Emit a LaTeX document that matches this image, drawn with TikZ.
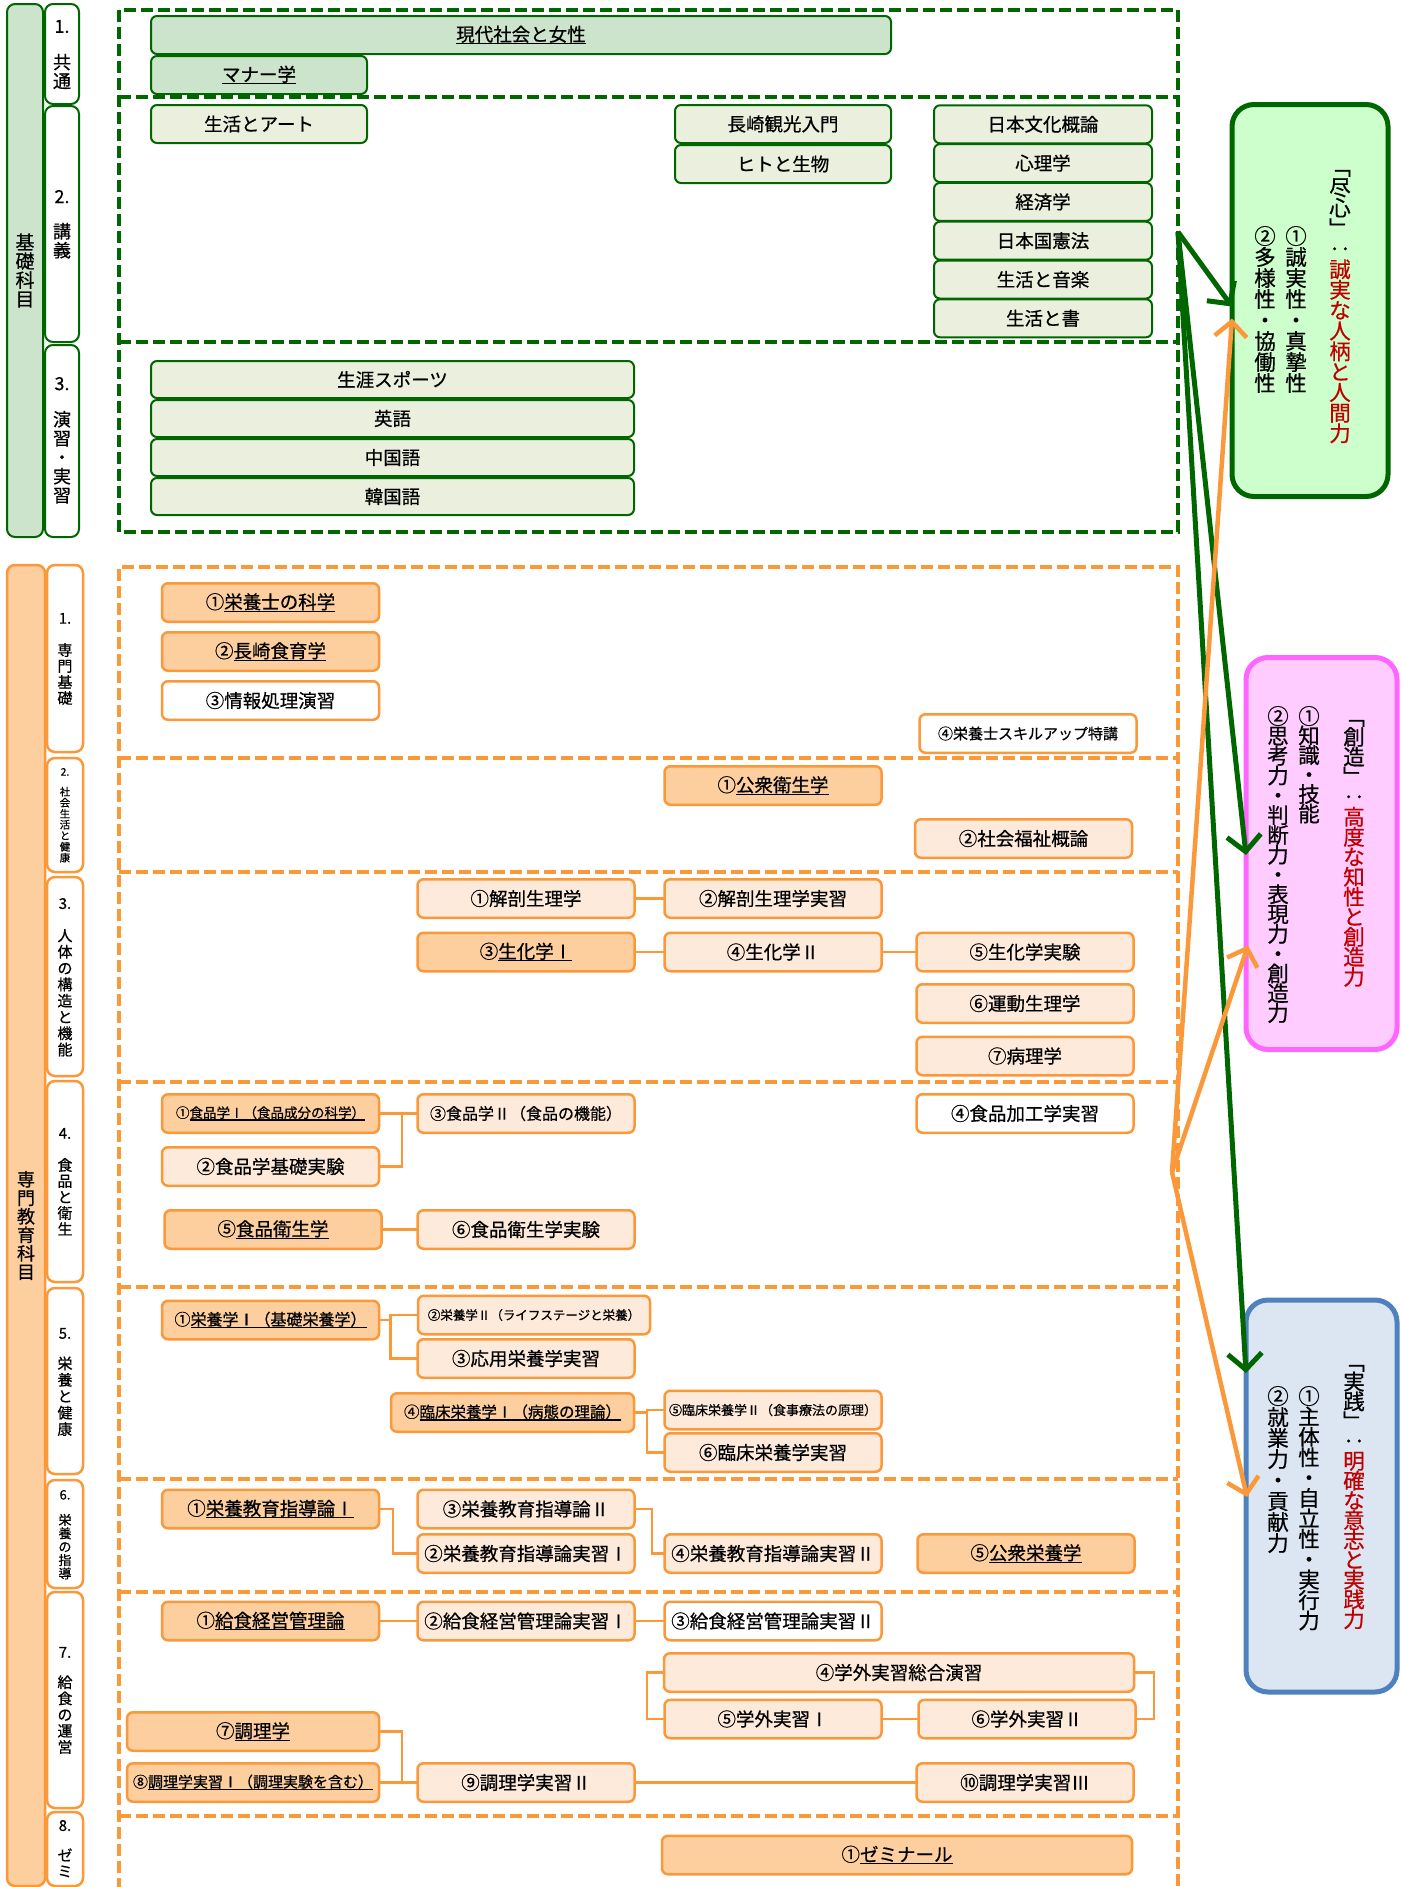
\documentclass[tikz,border=0pt]{standalone}
\usepackage{fontspec}
\setmainfont{Noto Sans CJK JP}[FakeBold=0.6]
\usetikzlibrary{arrows.meta,calc,positioning}
\definecolor{KisoLine}{RGB}{0,102,0}
\definecolor{KisoFill}{RGB}{204,228,204}
\definecolor{KisoLight}{RGB}{235,240,222}
\definecolor{SenmonLine}{RGB}{250,152,58}
\definecolor{SenmonFill}{RGB}{253,206,158}
\definecolor{SenmonLight}{RGB}{253,234,218}
\definecolor{JinshinFill}{RGB}{204,255,204}
\definecolor{SozoFill}{RGB}{255,204,255}
\definecolor{SozoLine}{RGB}{255,102,255}
\definecolor{JissenFill}{RGB}{220,230,242}
\definecolor{JissenLine}{RGB}{79,129,189}
\definecolor{TitleRed}{RGB}{192,0,0}

\makeatletter
\newcommand\tate[1]{\@tfor\TateChar:=#1\do{\hbox to 1em{\hss\TateChar\hss}}}
\makeatother
\newcommand\tatecol[2]{\vbox{\baselineskip=#1\lineskiplimit=-20pt\tate{#2}}}
\newcommand\barnum[4]{\vbox{\baselineskip=#1\lineskiplimit=-20pt
    \hbox to 1em{\hss#3.\hss}\vskip#2\tate{#4}}}
\newsavebox\UlBox
\newcommand\ulbox[1]{\sbox\UlBox{#1}\rlap{\rule[-3pt]{\wd\UlBox}{1.3pt}}\usebox\UlBox}

\begin{document}
\begin{tikzpicture}[x=1pt, y=-1pt,
    every node/.style={inner sep=0pt, outer sep=0pt},
    fs/.style={font=\fontsize{#1}{#1}\selectfont},
    kamoku/.style={rounded corners=6pt, minimum width=217pt, minimum height=38pt, fs=18.5},
    kiso/.style={kamoku, draw=KisoLine, line width=2pt, fill=KisoLight},
    kisoreq/.style={kiso, fill=KisoFill},
    senmon/.style={kamoku, draw=SenmonLine, line width=2.5pt, fill=SenmonLight, minimum height=38.5pt},
    senmonreq/.style={senmon, fill=SenmonFill},
    senmonfree/.style={senmon, fill=white},
    kisobar/.style={draw=KisoLine, line width=2pt, rounded corners=8pt},
    senmonbar/.style={draw=SenmonLine, line width=2.5pt, rounded corners=8pt},
    barlabel/.style={anchor=north},
    gframe/.style={draw=KisoLine, line width=4pt, dash pattern=on 12pt off 5pt},
    oframe/.style={draw=SenmonLine, line width=4pt, dash pattern=on 12pt off 5pt},
    link/.style={draw=SenmonLine, line width=2.5pt},
    goal/.style={rounded corners=22pt, line width=5pt, minimum width=152pt, minimum height=392pt},
    tatetext/.style={anchor=north, fs=21.5},
    garrow/.style={draw=KisoLine, line width=5pt, -{Straight Barb[length=16pt,width=34pt]}},
    oarrow/.style={draw=SenmonLine, line width=4.5pt, -{Straight Barb[length=15pt,width=32pt]}}]

    \useasboundingbox (0,0) rectangle (1402,1887);

    % 基礎科目
    \node[kisobar, fill=KisoFill, minimum width=36pt, minimum height=533pt, fs=19]
        (KisoBar) at (25,270.5) {\tatecol{19pt}{基礎科目}};
    \node[kisobar, fill=white, minimum width=34pt, minimum height=100pt] (KisoBar1) at (62,54) {};
    \node[kisobar, fill=white, minimum width=34pt, minimum height=236pt] (KisoBar2) at (62,224) {};
    \node[kisobar, fill=white, minimum width=34pt, minimum height=192pt] (KisoBar3) at (62,441) {};
    \node[barlabel, fs=18] (KisoLabel1) at ([yshift=-16pt]KisoBar1.north) {\barnum{19pt}{17pt}{1}{共通}};
    \node[barlabel, fs=18] (KisoLabel2) at ([yshift=-84pt]KisoBar2.north) {\barnum{19pt}{16pt}{2}{講義}};
    \node[barlabel, fs=18] (KisoLabel3) at ([yshift=-32pt]KisoBar3.north) {\barnum{19pt}{17pt}{3}{演習・実習}};

    \draw[gframe] (119,10) rectangle (1178,532);
    \draw[gframe] (119,97) -- (1178,97);
    \draw[gframe] (119,342) -- (1178,342);

    \node[kisoreq, minimum width=740pt] (Gendai) at (521,35) {\ulbox{現代社会と女性}};
    \node[kisoreq, minimum width=216pt] (Manner) at (259,75) {\ulbox{マナー学}};
    \node[kiso, minimum width=216pt] (SeikatsuArt) at (259,124) {生活とアート};
    \node[kiso, minimum width=216pt] (Kanko) at (783,124) {長崎観光入門};
    \node[kiso, minimum width=216pt] (HitoSeibutsu) at (783,164) {ヒトと生物};
    \foreach \t [count=\i] in {日本文化概論,心理学,経済学,日本国憲法,生活と音楽,生活と書}
        \node[kiso, minimum width=218pt] (Kougi\i) at (1043,85.5+38.8*\i) {\t};
    \foreach \t [count=\i] in {生涯スポーツ,英語,中国語,韓国語}
        \node[kiso, minimum width=483pt, minimum height=37pt] (Enshu\i) at (392.5,340.5+39*\i) {\t};

    % 専門教育科目
    \node[senmonbar, fill=SenmonFill, minimum width=38pt, minimum height=1321pt, fs=18]
        (SenmonBar) at (26,1225.5) {\tatecol{18.5pt}{専門教育科目}};
    \node[senmonbar, fill=white, minimum width=36pt, minimum height=187pt] (SenmonBar1) at (65,658.5) {};
    \node[senmonbar, fill=white, minimum width=36pt, minimum height=114pt] (SenmonBar2) at (65,815) {};
    \node[senmonbar, fill=white, minimum width=36pt, minimum height=199pt] (SenmonBar3) at (65,976.5) {};
    \node[senmonbar, fill=white, minimum width=36pt, minimum height=201pt] (SenmonBar4) at (65,1181.5) {};
    \node[senmonbar, fill=white, minimum width=36pt, minimum height=186pt] (SenmonBar5) at (65,1381) {};
    \node[senmonbar, fill=white, minimum width=36pt, minimum height=108pt] (SenmonBar6) at (65,1534) {};
    \node[senmonbar, fill=white, minimum width=36pt, minimum height=216pt] (SenmonBar7) at (65,1700) {};
    \node[senmonbar, fill=white, minimum width=36pt, minimum height=74pt] (SenmonBar8) at (65,1849) {};
    \node[barlabel, fs=15] (SenmonLabel1) at ([yshift=-48pt]SenmonBar1.north) {\barnum{16pt}{16pt}{1}{専門基礎}};
    \node[barlabel, fs=10.5] (SenmonLabel2) at ([yshift=-10pt]SenmonBar2.north) {\barnum{11pt}{9pt}{2}{社会生活と健康}};
    \node[barlabel, fs=15] (SenmonLabel3) at ([yshift=-21pt]SenmonBar3.north) {\barnum{16.3pt}{16pt}{3}{人体の構造と機能}};
    \node[barlabel, fs=15] (SenmonLabel4) at ([yshift=-47pt]SenmonBar4.north) {\barnum{16pt}{16pt}{4}{食品と衛生}};
    \node[barlabel, fs=15] (SenmonLabel5) at ([yshift=-40pt]SenmonBar5.north) {\barnum{16.4pt}{14pt}{5}{栄養と健康}};
    \node[barlabel, fs=13] (SenmonLabel6) at ([yshift=-10pt]SenmonBar6.north) {\barnum{13.4pt}{12pt}{6}{栄養の指導}};
    \node[barlabel, fs=15] (SenmonLabel7) at ([yshift=-55pt]SenmonBar7.north) {\barnum{16.2pt}{14pt}{7}{給食の運営}};
    \node[barlabel, fs=15] (SenmonLabel8) at ([yshift=-8pt]SenmonBar8.north) {\barnum{16pt}{14pt}{8}{ゼミ}};

    \draw[oframe] (119,1890) -- (119,567) -- (1178,567) -- (1178,1890);
    \foreach \y in {758,872,1082,1287,1479,1592,1816}
        \draw[oframe] (119,\y) -- (1178,\y);

    \node[senmonreq] (SenKiso1) at (270.5,602.5) {①\ulbox{栄養士の科学}};
    \node[senmonreq] (SenKiso2) at (270.5,651.5) {②\ulbox{長崎食育学}};
    \node[senmonfree] (SenKiso3) at (270.5,700.5) {③情報処理演習};
    \node[senmonfree, fs=15] (SenKiso4) at (1028,733.5) {④栄養士スキルアップ特講};

    \node[senmonreq] (Shakai1) at (773,785.5) {①\ulbox{公衆衛生学}};
    \node[senmon] (Shakai2) at (1023.5,838.5) {②社会福祉概論};

    \node[senmon] (Jintai1) at (526,898.5) {①解剖生理学};
    \node[senmon] (Jintai2) at (773,898.5) {②解剖生理学実習};
    \node[senmonreq] (Jintai3) at (526,952) {③\ulbox{生化学Ⅰ}};
    \node[senmon] (Jintai4) at (773,952) {④生化学Ⅱ};
    \node[senmon] (Jintai5) at (1025,952) {⑤生化学実験};
    \node[senmon] (Jintai6) at (1025,1003.5) {⑥運動生理学};
    \node[senmon] (Jintai7) at (1025,1056) {⑦病理学};

    \node[senmonreq, fs=13.5] (Shokuhin1) at (270.5,1113.5) {①\ulbox{食品学Ⅰ（食品成分の科学）}};
    \node[senmon] (Shokuhin2) at (270.5,1166.5) {②食品学基礎実験};
    \node[senmon, fs=16] (Shokuhin3) at (526,1113.5) {③食品学Ⅱ（食品の機能）};
    \node[senmonfree] (Shokuhin4) at (1025,1113.5) {④食品加工学実習};
    \node[senmonreq] (Shokuhin5) at (273,1229.5) {⑤\ulbox{食品衛生学}};
    \node[senmon] (Shokuhin6) at (526,1229.5) {⑥食品衛生学実験};

    \node[senmonreq, fs=16] (Eiyou1) at (270.5,1320) {①\ulbox{栄養学Ⅰ（基礎栄養学）}};
    \node[senmon, fs=12.5, minimum width=232pt] (Eiyou2) at (534,1315) {②栄養学Ⅱ（ライフステージと栄養）};
    \node[senmon] (Eiyou3) at (526,1358.5) {③応用栄養学実習};
    \node[senmonreq, fs=15.5, minimum width=243pt] (Eiyou4) at (512.5,1412.5) {④\ulbox{臨床栄養学Ⅰ（病態の理論）}};
    \node[senmon, fs=13] (Eiyou5) at (773,1410) {⑤臨床栄養学Ⅱ（食事療法の原理）};
    \node[senmon] (Eiyou6) at (773,1452.5) {⑥臨床栄養学実習};

    \node[senmonreq] (Shidou1) at (270.5,1509) {①\ulbox{栄養教育指導論Ⅰ}};
    \node[senmon] (Shidou3) at (526,1509) {③栄養教育指導論Ⅱ};
    \node[senmon] (Shidou2) at (526,1553.5) {②栄養教育指導論実習Ⅰ};
    \node[senmon] (Shidou4) at (773,1553.5) {④栄養教育指導論実習Ⅱ};
    \node[senmonreq] (Shidou5) at (1026,1553.5) {⑤\ulbox{公衆栄養学}};

    \node[senmonreq] (Kyushoku1) at (270.5,1621) {①\ulbox{給食経営管理論}};
    \node[senmon] (Kyushoku2) at (526,1621) {②給食経営管理論実習Ⅰ};
    \node[senmonfree] (Kyushoku3) at (773,1621) {③給食経営管理論実習Ⅱ};
    \node[senmon, minimum width=470pt] (Kyushoku4) at (899,1672.5) {④学外実習総合演習};
    \node[senmon] (Kyushoku5) at (773,1719) {⑤学外実習Ⅰ};
    \node[senmon] (Kyushoku6) at (1027,1719) {⑥学外実習Ⅱ};
    \node[senmonreq, minimum width=252pt] (Kyushoku7) at (253,1731.5) {⑦\ulbox{調理学}};
    \node[senmonreq, fs=15, minimum width=252pt] (Kyushoku8) at (253,1782.5) {⑧\ulbox{調理学実習Ⅰ（調理実験を含む）}};
    \node[senmon] (Kyushoku9) at (526,1782.5) {⑨調理学実習Ⅱ};
    \node[senmon] (Kyushoku10) at (1025,1782.5) {⑩調理学実習Ⅲ};

    \node[senmonreq, minimum width=470pt] (Zemi1) at (897,1855) {①\ulbox{ゼミナール}};

    \draw[link] (Jintai1) -- (Jintai2);
    \draw[link] (Jintai3) -- (Jintai4) -- (Jintai5);

    \coordinate (ShokuhinJoin) at ($(Shokuhin1.east)!0.6!(Shokuhin3.west)$);
    \draw[link] (Shokuhin1.east) -- (Shokuhin3.west);
    \draw[link] (Shokuhin2.east) -| (ShokuhinJoin);
    \draw[link] (Shokuhin5) -- (Shokuhin6);

    \coordinate (EiyouJoin) at ($(Eiyou1.east)!0.3!(Eiyou1.east -| Eiyou3.west)$);
    \draw[link] (Eiyou1.east) -- (EiyouJoin) |- (Eiyou2.west);
    \draw[link] (EiyouJoin) |- (Eiyou3.west);
    \coordinate (RinshoJoin) at ($(Eiyou4.east)!0.43!(Eiyou4.east -| Eiyou5.west)$);
    \draw[link] (Eiyou4.east) -- (RinshoJoin) |- (Eiyou5.west);
    \draw[link] (RinshoJoin) |- (Eiyou6.west);

    \coordinate (ShidouJoinA) at ($(Shidou1.east)!0.36!(Shidou1.east -| Shidou2.west)$);
    \draw[link] (Shidou1.east) -- (ShidouJoinA) |- (Shidou2.west);
    \coordinate (ShidouJoinB) at ($(Shidou3.east)!0.58!(Shidou3.east -| Shidou4.west)$);
    \draw[link] (Shidou3.east) -- (ShidouJoinB) |- (Shidou4.west);

    \draw[link] (Kyushoku1) -- (Kyushoku2) -- (Kyushoku3);
    \draw[link] (Kyushoku4.west) -- ++(-17,0) |- (Kyushoku5.west);
    \draw[link] (Kyushoku4.east) -- ++(20,0) |- (Kyushoku6.east);
    \draw[link] (Kyushoku5) -- (Kyushoku6);
    \coordinate (ChoriJoin) at ($(Kyushoku7.east)!0.6!(Kyushoku7.east -| Kyushoku9.west)$);
    \draw[link] (Kyushoku7.east) -- (ChoriJoin) |- (Kyushoku9.west);
    \draw[link] (Kyushoku8.east) -- (Kyushoku9.west);
    \draw[link] (Kyushoku9) -- (Kyushoku10);

    % 尽心・創造・実践
    \node[goal, draw=KisoLine, fill=JinshinFill, minimum width=156pt] (Jinshin) at (1310,300.5) {};
    \node[goal, draw=SozoLine, fill=SozoFill, minimum width=151pt] (Sozo) at (1321.5,853.5) {};
    \node[goal, draw=JissenLine, fill=JissenFill, minimum width=151pt] (Jissen) at (1321.5,1496) {};

    \node[tatetext] (JinshinTitle) at (1340,170)
        {\vbox{\baselineskip=20.5pt\lineskiplimit=-20pt\tate{﹁尽心﹂‥}\color{TitleRed}\tate{誠実な人柄と人間力}}};
    \node[tatetext] (JinshinOne) at (1296,226) {\tatecol{21pt}{①誠実性・真摯性}};
    \node[tatetext] (JinshinTwo) at (1265,226) {\tatecol{21pt}{②多様性・協働性}};

    \node[tatetext] (SozoTitle) at (1354,720)
        {\vbox{\baselineskip=20pt\lineskiplimit=-20pt\tate{﹁創造﹂‥}\color{TitleRed}\tate{高度な知性と創造力}}};
    \node[tatetext] (SozoOne) at (1309,706) {\tatecol{19.5pt}{①知識・技能}};
    \node[tatetext] (SozoTwo) at (1278,706) {\tatecol{19.8pt}{②思考力・判断力・表現力・創造力}};

    \node[tatetext] (JissenTitle) at (1354,1365)
        {\vbox{\baselineskip=19.8pt\lineskiplimit=-20pt\tate{﹁実践﹂‥}\color{TitleRed}\tate{明確な意志と実践力}}};
    \node[tatetext] (JissenOne) at (1309,1386) {\tatecol{20.4pt}{①主体性・自立性・実行力}};
    \node[tatetext] (JissenTwo) at (1278,1386) {\tatecol{21pt}{②就業力・貢献力}};

    \coordinate (KisoOut) at (1178,232);
    \coordinate (SenmonOut) at (1172,1172);
    \coordinate (JinshinG) at ($(Jinshin.west)+(0,6)$);
    \coordinate (JinshinO) at ($(Jinshin.west)+(0,18)$);
    \coordinate (SozoG) at ($(Sozo.west)+(0,1.5)$);
    \coordinate (SozoO) at ($(Sozo.west)+(2,92)$);
    \coordinate (JissenG) at ($(Jissen.west)+(0,-123)$);
    \coordinate (JissenO) at ($(Jissen.west)+(1,1)$);

    \foreach \to in {JinshinG,SozoG,JissenG}
        \draw[garrow] (KisoOut) -- (\to);
    \foreach \to in {JinshinO,SozoO,JissenO}
        \draw[oarrow] (SenmonOut) -- (\to);

\end{tikzpicture}
\end{document}
